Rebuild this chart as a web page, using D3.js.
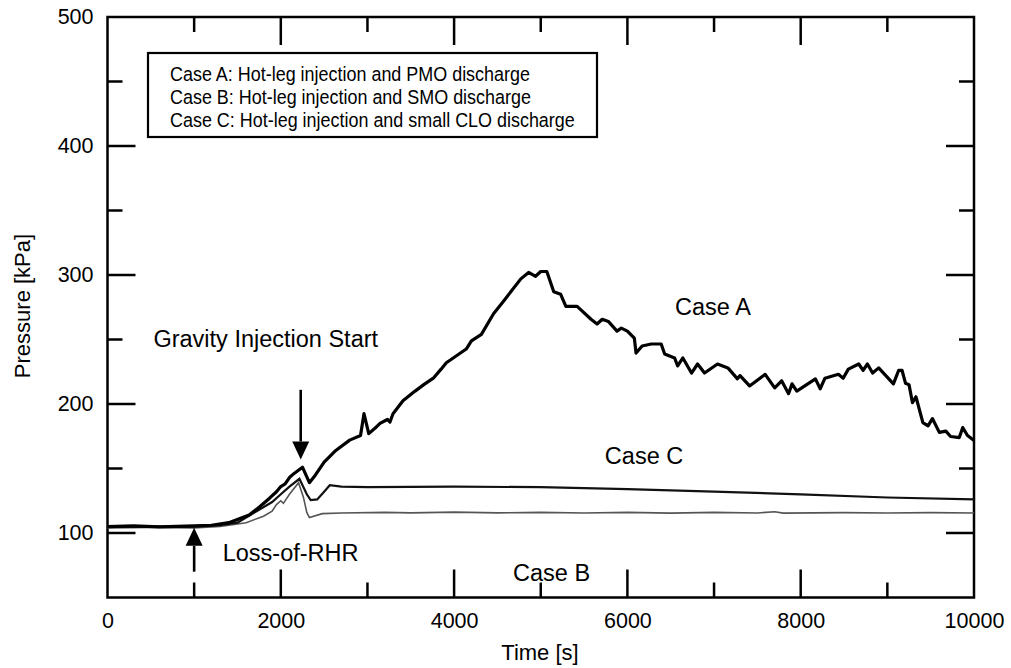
<!DOCTYPE html>
<html>
<head>
<meta charset="utf-8">
<script src="https://cdn.jsdelivr.net/npm/d3@7"></script>
<style>
  html, body { margin: 0; padding: 0; background: #fff; }
  svg { display: block; }
  text { font-family: "Liberation Sans", Arial, sans-serif; fill: #000; }
</style>
</head>
<body>
<svg id="chart" width="1011" height="668"></svg>
<script>
// ---------------- data ----------------
const xTicks = [0, 2000, 4000, 6000, 8000, 10000];
const yTicks = [100, 200, 300, 400, 500];
const xMinorTicks = [1000, 3000, 5000, 7000, 9000];
const yMinorTicks = [150, 250, 350, 450];

const caseA_t = [0, 300, 600, 900, 1200, 1400, 1635, 1750, 1870, 1950, 2000, 2050, 2100, 2150, 2250, 2330, 2400, 2500, 2635, 2795, 2920, 2960, 3015, 3100, 3145, 3230, 3260, 3295, 3410, 3550, 3650, 3760, 3850, 3910, 3990, 4140, 4200, 4315, 4455, 4570, 4770, 4860, 4940, 5000, 5070, 5150, 5230, 5290, 5420, 5580, 5650, 5710, 5780, 5880, 5930, 6000, 6080, 6100, 6170, 6275, 6390, 6430, 6545, 6580, 6640, 6740, 6810, 6890, 7040, 7160, 7270, 7300, 7410, 7590, 7700, 7780, 7860, 7900, 7955, 8170, 8225, 8280, 8435, 8490, 8550, 8670, 8720, 8770, 8830, 8900, 9070, 9130, 9170, 9210, 9250, 9290, 9330, 9410, 9470, 9520, 9600, 9675, 9730, 9830, 9870, 9925, 10000];
const caseA_p = [105, 105.5, 104.8, 105.3, 106, 108, 114, 120, 127, 132, 136, 138, 143, 146, 151, 139, 145, 155, 164, 172, 175.6, 192.5, 177, 182, 185, 188, 186, 192.5, 202.5, 210, 215, 220, 227, 232, 235.7, 242.6, 249, 254, 270, 279.6, 297, 302, 299, 302.7, 302.7, 287, 285, 275.7, 275.7, 265.7, 262, 265.7, 264, 256.5, 258.8, 256.5, 251, 239.5, 245, 246.5, 246.5, 238.8, 235.7, 229.5, 235.7, 224, 231, 224, 231, 228, 219.5, 222, 214, 223, 212.5, 218, 208, 215.6, 210, 219.5, 211.8, 220, 223, 220, 227, 231, 226, 231, 224, 228, 215.6, 226, 226, 216, 215, 201, 205.6, 185.6, 183, 188.7, 178, 179, 174.8, 174, 181.7, 175.6, 171.7];

const caseB_t = [0, 500, 1000, 1300, 1600, 1800, 1900, 1950, 2000, 2030, 2100, 2205, 2260, 2300, 2330, 2480, 2700, 3200, 3500, 4000, 4500, 5000, 5500, 6000, 6500, 7000, 7500, 7700, 7800, 8500, 9000, 9500, 10000];
const caseB_p = [104, 104.3, 104, 105, 108, 113, 117, 122, 125, 123, 130, 139, 128, 116, 112, 115, 115.5, 116, 115.6, 116.2, 115.6, 116, 115.5, 116, 115.4, 116, 115.5, 116.5, 115.4, 115.8, 115.5, 115.8, 115.5];

const caseC_t = [0, 1000, 1300, 1500, 1700, 1900, 2000, 2100, 2215, 2300, 2345, 2420, 2500, 2565, 2700, 3000, 4000, 5000, 6000, 7000, 8000, 9000, 10000];
const caseC_p = [105, 105, 106, 108, 116, 124, 130, 136, 142, 130, 125.5, 126, 132, 137, 136, 135.5, 136, 135.5, 134, 132, 130, 127.5, 126];

const legendLines = [
  "Case A: Hot-leg injection and PMO discharge",
  "Case B: Hot-leg injection and SMO discharge",
  "Case C: Hot-leg injection and small CLO discharge"
];
// annotation texts, anchored in data coordinates (time, pressure of baseline)
const labelTexts = ["Gravity Injection Start", "Loss-of-RHR", "Case A", "Case B", "Case C"];
const labelT = [530, 1330, 6550, 4680, 5740];
const labelP = [244, 78, 269, 63, 153.5];
// arrows: time, from pressure, to pressure (tip)
const arrowT = [2230, 1000];
const arrowFrom = [211, 70];
const arrowTo = [157, 104];

// ---------------- layout ----------------
const svg = d3.select("#chart");
const pL = 107.5, pR = 974, pT = 17, pB = 597.5;
const x = d3.scaleLinear().domain([0, 10000]).range([pL, pR]);
const y = d3.scaleLinear().domain([50, 500]).range([pB, pT]);

// plot frame
svg.append("rect").attr("x", pL).attr("y", pT)
  .attr("width", pR - pL).attr("height", pB - pT)
  .attr("fill", "none").attr("stroke", "#000").attr("stroke-width", 2.5);

const majorLen = 28, minorLen = 15;
const g = svg.append("g");
function xTickLines(vals, len) {
  vals.forEach(v => {
    g.append("line").attr("x1", x(v)).attr("x2", x(v)).attr("y1", pB).attr("y2", pB - len)
      .attr("stroke", "#000").attr("stroke-width", 2.5);
    g.append("line").attr("x1", x(v)).attr("x2", x(v)).attr("y1", pT).attr("y2", pT + len)
      .attr("stroke", "#000").attr("stroke-width", 2.5);
  });
}
function yTickLines(vals, len) {
  vals.forEach(v => {
    g.append("line").attr("x1", pL).attr("x2", pL + len).attr("y1", y(v)).attr("y2", y(v))
      .attr("stroke", "#000").attr("stroke-width", 2.5);
    g.append("line").attr("x1", pR).attr("x2", pR - len).attr("y1", y(v)).attr("y2", y(v))
      .attr("stroke", "#000").attr("stroke-width", 2.5);
  });
}
xTickLines(xTicks.slice(1, -1), majorLen);
xTickLines(xMinorTicks, minorLen);
yTickLines(yTicks.slice(0, -1), majorLen);
yTickLines(yMinorTicks, minorLen);

// tick labels via d3 axes (lines hidden)
const xAxis = svg.append("g").attr("transform", `translate(0,${pB})`)
  .call(d3.axisBottom(x).tickValues(xTicks).tickSize(0).tickPadding(15).tickFormat(d3.format("d")));
const yAxis = svg.append("g").attr("transform", `translate(${pL},0)`)
  .call(d3.axisLeft(y).tickValues(yTicks).tickSize(0).tickPadding(14).tickFormat(d3.format("d")));
[xAxis, yAxis].forEach(a => {
  a.select(".domain").remove();
  a.selectAll("text").attr("font-family", "Liberation Sans, Arial, sans-serif")
    .attr("font-size", 21.5).attr("fill", "#000");
});

// axis titles
svg.append("text").attr("x", 540).attr("y", 660)
  .attr("text-anchor", "middle").attr("font-size", 22).text("Time [s]");
svg.append("text").attr("transform", `translate(30,306) rotate(-90)`)
  .attr("text-anchor", "middle").attr("font-size", 22).text("Pressure [kPa]");

// series
const line = d3.line().x(d => x(d[0])).y(d => y(d[1])).curve(d3.curveLinear);
const zip = (t, p) => t.map((v, i) => [v, p[i]]);
svg.append("path").datum(zip(caseB_t, caseB_p)).attr("d", line)
  .attr("fill", "none").attr("stroke", "#555").attr("stroke-width", 1.6);
svg.append("path").datum(zip(caseC_t, caseC_p)).attr("d", line)
  .attr("fill", "none").attr("stroke", "#111").attr("stroke-width", 2.2);
svg.append("path").datum(zip(caseA_t, caseA_p)).attr("d", line)
  .attr("fill", "none").attr("stroke", "#000").attr("stroke-width", 3.2).attr("stroke-linejoin", "round");

// arrows
arrowT.forEach((t, i) => {
  const xa = x(t), y0 = y(arrowFrom[i]), y1 = y(arrowTo[i]);
  const dir = y1 > y0 ? 1 : -1;
  const headLen = 18, headW = 8.5;
  svg.append("line").attr("x1", xa).attr("x2", xa).attr("y1", y0).attr("y2", y1 - dir * headLen)
    .attr("stroke", "#000").attr("stroke-width", 2.6);
  svg.append("path")
    .attr("d", `M${xa},${y1} L${xa - headW},${y1 - dir * headLen} L${xa + headW},${y1 - dir * headLen} Z`)
    .attr("fill", "#000");
});

// annotation labels
labelTexts.forEach((s, i) => {
  svg.append("text").attr("x", x(labelT[i])).attr("y", y(labelP[i]))
    .attr("font-size", 23.5).text(s);
});

// legend box
const lgX = 148, lgY = 53, lgW = 449, lgH = 84;
svg.append("rect").attr("x", lgX).attr("y", lgY).attr("width", lgW).attr("height", lgH)
  .attr("fill", "#fff").attr("stroke", "#000").attr("stroke-width", 2.2);
legendLines.forEach((s, i) => {
  const t = svg.append("text").attr("x", lgX + 22).attr("y", lgY + 28 + i * 23)
    .attr("font-size", 20.5).text(s);
  const w = t.node().getComputedTextLength();
  t.attr("textLength", w * 0.875).attr("lengthAdjust", "spacingAndGlyphs");
});
</script>
</body>
</html>
